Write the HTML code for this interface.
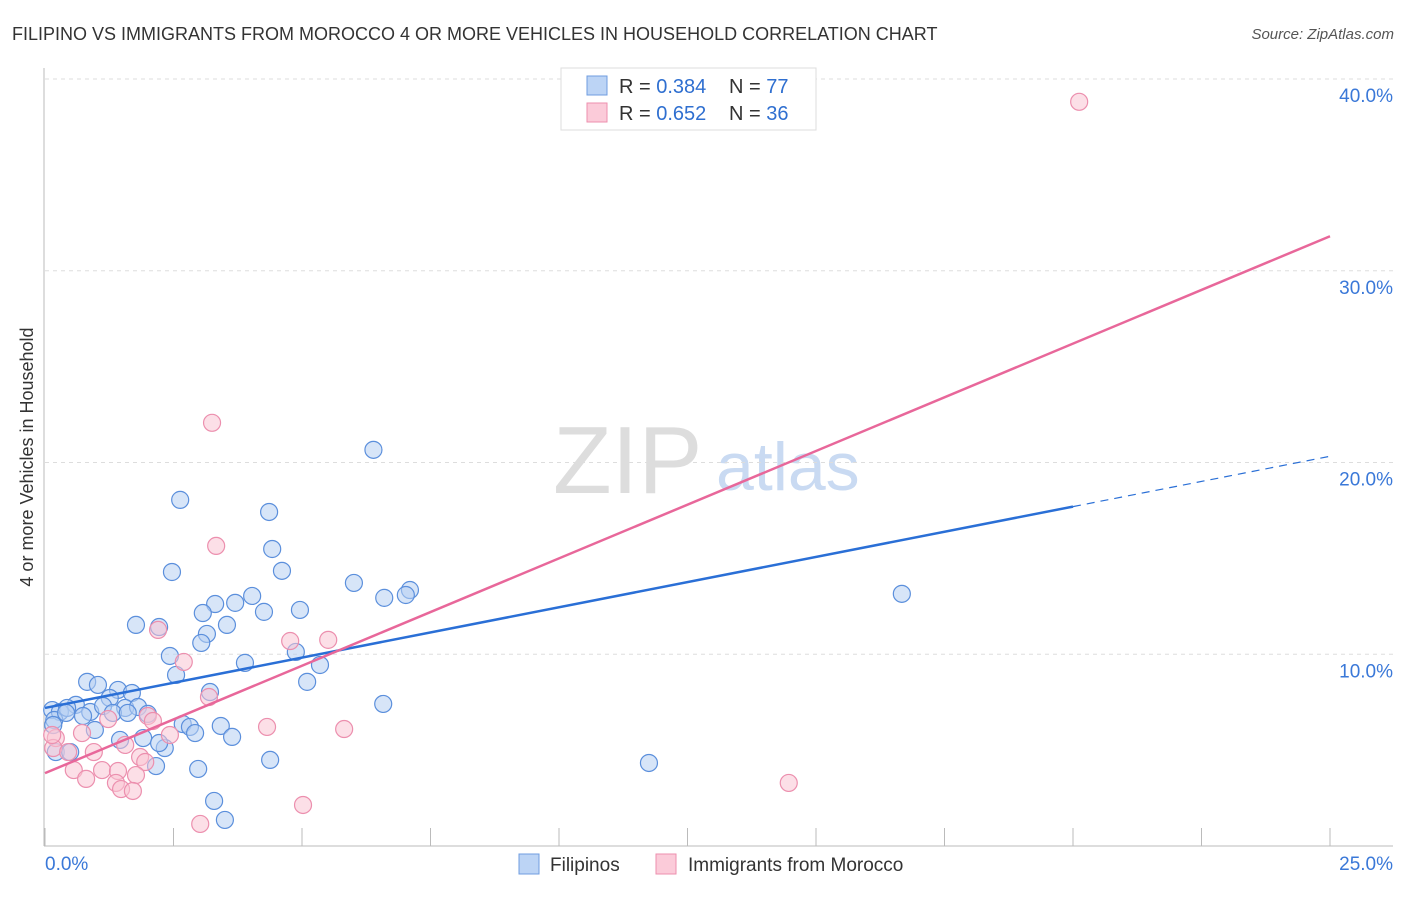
<!DOCTYPE html>
<html><head><meta charset="utf-8"><style>
body{margin:0;background:#fff;font-family:"Liberation Sans",sans-serif;}
svg text{font-family:"Liberation Sans",sans-serif;}
</style></head><body>
<svg id="chart" width="1406" height="892" xmlns="http://www.w3.org/2000/svg">
<text x="12" y="40" font-size="18" fill="#333">FILIPINO VS IMMIGRANTS FROM MOROCCO 4 OR MORE VEHICLES IN HOUSEHOLD CORRELATION CHART</text>
<text x="1394" y="39" font-size="15" fill="#555" text-anchor="end" font-style="italic">Source: ZipAtlas.com</text>
<text x="33" y="457" font-size="18" fill="#333" text-anchor="middle" transform="rotate(-90 33 457)">4 or more Vehicles in Household</text>
<g>
<text x="553" y="493" font-size="96" fill="#ddd" font-family="Liberation Serif">ZIP</text>
<text x="716" y="490" font-size="68" fill="#c9daf2">atlas</text>
</g>
<g id="grid"></g><g id="axes"></g><g id="marks"></g><g id="lines"></g>
<g>
<rect x="561" y="68" width="255" height="62" fill="#fff" stroke="#ddd"/>
<rect x="587" y="76" width="20" height="19" fill="#bcd4f5" stroke="#6f9de0"/>
<rect x="587" y="103" width="20" height="19" fill="#fbcbd9" stroke="#ee8fae"/>
<text x="619" y="93" font-size="20" fill="#333">R = <tspan fill="#2f6fd0">0.384</tspan></text>
<text x="729" y="93" font-size="20" fill="#333">N = <tspan fill="#2f6fd0">77</tspan></text>
<text x="619" y="120" font-size="20" fill="#333">R = <tspan fill="#2f6fd0">0.652</tspan></text>
<text x="729" y="120" font-size="20" fill="#333">N = <tspan fill="#2f6fd0">36</tspan></text>
</g>
<g>
<rect x="519" y="854" width="20" height="20" fill="#bcd4f5" stroke="#6f9de0"/>
<text x="550" y="871" font-size="19" fill="#333">Filipinos</text>
<rect x="656" y="854" width="20" height="20" fill="#fbcbd9" stroke="#ee8fae"/>
<text x="688" y="871" font-size="19" fill="#333">Immigrants from Morocco</text>
</g>
</svg>
<script>
const xTicks=[0,2.5,5,7.5,10,12.5,15,17.5,20,22.5,25];
const yTicks=[10,20,30,40];
const yTickLabels=["10.0%","20.0%","30.0%","40.0%"];
const xEndLabels=["0.0%","25.0%"];
const filX=[6.39,2.63,4.36,4.42,4.61,2.47,6.01,7.10,6.60,7.02,4.03,3.70,3.31,3.07,4.26,4.96,3.54,1.77,2.22,3.15,3.04,4.88,2.43,3.89,5.35,2.55,5.10,0.82,1.03,1.42,1.69,3.21,1.26,0.60,0.14,0.29,0.43,0.88,1.13,1.56,1.81,2.00,0.74,1.32,1.61,0.18,0.97,0.16,2.68,2.82,2.92,3.42,3.64,1.46,1.91,2.33,2.22,6.58,0.21,0.49,2.16,2.98,4.38,3.29,3.50,11.75,16.67,0.41];
const filY=[20.66,18.05,17.42,15.49,14.35,14.29,13.72,13.35,12.94,13.09,13.04,12.68,12.62,12.15,12.21,12.31,11.53,11.53,11.42,11.06,10.59,10.12,9.91,9.55,9.44,8.92,8.56,8.56,8.40,8.14,7.98,8.03,7.72,7.36,7.09,6.99,7.20,6.99,7.30,7.20,7.25,6.89,6.78,6.94,6.94,6.57,6.05,6.31,6.36,6.21,5.89,6.26,5.69,5.53,5.63,5.11,5.37,7.41,4.90,4.90,4.17,4.02,4.49,2.35,1.36,4.33,13.15,6.94];
const morX=[20.12,3.25,3.33,2.20,4.77,5.51,2.70,3.19,1.23,2.00,2.10,2.43,4.32,5.82,0.72,0.21,1.56,0.16,0.95,0.45,1.85,1.95,0.56,1.11,1.42,1.77,0.80,1.38,1.48,1.71,14.47,5.02,3.02,0.14];
const morY=[38.81,22.07,15.65,11.27,10.69,10.75,9.60,7.77,6.62,6.78,6.52,5.79,6.21,6.10,5.89,5.63,5.27,5.11,4.90,4.90,4.64,4.38,3.96,3.96,3.91,3.70,3.50,3.29,2.97,2.87,3.29,2.14,1.15,5.79];
const filLine=[7.2,0.525]; // intercept, slope
const morLine=[3.8,1.12];
const filSolidEnd=20, xMax=25;

const X=v=>45+v*(1330-45)/25;
const Y=v=>846-v*(846-79)/40;
const NS="http://www.w3.org/2000/svg";
function mk(tag,attrs,parent){const e=document.createElementNS(NS,tag);for(const k in attrs)e.setAttribute(k,attrs[k]);parent.appendChild(e);return e;}
const grid=document.getElementById('grid'),axes=document.getElementById('axes'),marks=document.getElementById('marks'),lines=document.getElementById('lines');
yTicks.forEach((t,i)=>{
 const g=mk('line',{x1:45,x2:1393,y1:Y(t),y2:Y(t),stroke:'#ddd','stroke-dasharray':'4,4'},grid);
 
 
 const l=mk('text',{x:1393,y:Y(t)+23,'font-size':19,fill:'#3a78d8','text-anchor':'end'},axes);
 l.textContent=yTickLabels[i];
 
 
});
const ax=mk('line',{x1:44,x2:44,y1:68,y2:846,stroke:'#bbb'},axes);


const bx=mk('line',{x1:44,x2:1393,y1:846,y2:846,stroke:'#bbb'},axes);


xTicks.forEach(t=>{
 const k=mk('line',{x1:X(t),x2:X(t),y1:828,y2:846,stroke:'#bbb'},axes);
 
 
});
[[0,'start',45],[1,'end',1393]].forEach(([i,a,x])=>{
 const l=mk('text',{x:x,y:870,'font-size':19,fill:'#3a78d8','text-anchor':a},axes);
 l.textContent=xEndLabels[i];
 
 
});
function pts(xs,ys,fill,stroke,name){xs.forEach((v,i)=>{
 const c=mk('circle',{cx:X(v),cy:Y(ys[i]),r:8.5,fill:fill,'fill-opacity':0.55,stroke:stroke,'stroke-width':1.2},marks);
 
 
});}
pts(filX,filY,'#b6cff3','#5b8fdc','filipino-point');
pts(morX,morY,'#f9c4d4','#ec8fae','morocco-point');
const f=x=>filLine[0]+filLine[1]*x, m=x=>morLine[0]+morLine[1]*x;
const l1=mk('line',{x1:X(0),y1:Y(f(0)),x2:X(filSolidEnd),y2:Y(f(filSolidEnd)),stroke:'#2a6fd6','stroke-width':2.5},lines);


const l2=mk('line',{x1:X(filSolidEnd),y1:Y(f(filSolidEnd)),x2:X(xMax),y2:Y(f(xMax)),stroke:'#2a6fd6','stroke-width':1.2,'stroke-dasharray':'8,6'},lines);


const l3=mk('line',{x1:X(0),y1:Y(m(0)),x2:X(xMax),y2:Y(m(xMax)),stroke:'#e8679a','stroke-width':2.5},lines);


</script>
</body></html>
